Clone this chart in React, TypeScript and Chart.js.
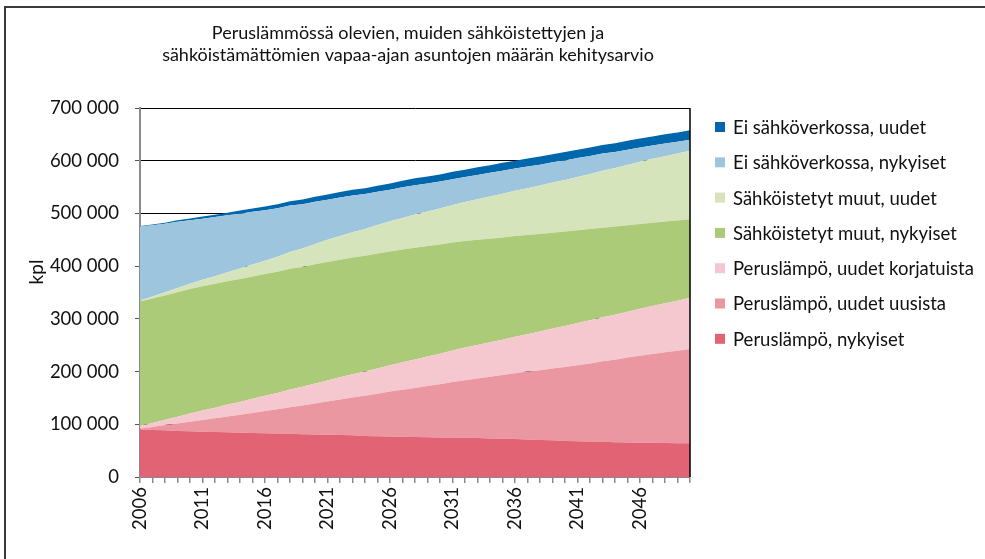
import React, { useEffect, useRef } from 'react';
import { Chart, registerables } from 'chart.js';

Chart.register(...registerables);

const TITLE = [
  'Peruslämmössä olevien, muiden sähköistettyjen ja',
  'sähköistämättömien vapaa-ajan asuntojen määrän kehitysarvio',
];
const Y_TITLE = 'kpl';
const UNIT = 1000;

const years = [
  '2006', '2007', '2008', '2009', '2010', '2011', '2012', '2013', '2014', '2015',
  '2016', '2017', '2018', '2019', '2020', '2021', '2022', '2023', '2024', '2025',
  '2026', '2027', '2028', '2029', '2030', '2031', '2032', '2033', '2034', '2035',
  '2036', '2037', '2038', '2039', '2040', '2041', '2042', '2043', '2044', '2045',
  '2046', '2047', '2048', '2049', '2050',
];
const labeledYears = ['2006', '2011', '2016', '2021', '2026', '2031', '2036', '2041', '2046'];

// values in thousands
const perusNykyiset = [
  90, 89, 88.5, 87.5, 87, 86, 85.5, 85, 84, 83.5,
  83, 82.5, 82, 81, 80.5, 80, 79.5, 79, 78, 77.5,
  77, 76.5, 76, 75.5, 75, 75, 74.5, 74, 73, 72.5,
  72, 71, 70, 69.5, 68.5, 68, 67.5, 67, 66, 65.5,
  65, 65, 64.5, 64, 64,
];
const perusUudetUusista = [
  2, 6, 10, 14, 18, 22, 26, 30, 34, 38,
  42, 46, 50.5, 54.5, 59, 63, 67.5, 72, 76, 80.5,
  85, 89, 93, 97, 101, 105, 109, 113, 117, 121,
  125, 129, 132.5, 136.5, 140, 144, 148, 152.5, 156.5, 161,
  165, 168.5, 172, 175.5, 179,
];
const perusUudetKorjatuista = [
  5, 7.5, 10, 13, 15.5, 18, 20, 22.5, 24.5, 27,
  29, 31, 33.5, 35.5, 38, 40, 42, 44, 46, 48,
  50, 52, 54, 56, 58, 60, 62, 63.5, 65.5, 67,
  69, 71, 73.5, 75.5, 78, 80, 82, 83.5, 85.5, 87,
  89, 91, 93, 95, 97,
];
const sahkoNykyiset = [
  236, 236, 236, 236, 236, 236, 235, 234, 233, 232,
  231, 230, 229, 227.5, 226, 225, 223, 221.5, 219.5, 218,
  216, 214, 212, 209.5, 207, 205, 202, 199.5, 196.5, 194,
  191, 188, 185, 182, 179, 176, 173, 170, 167, 164,
  161, 158, 155, 152, 149,
];
const sahkoUudet = [
  2, 4, 6, 8, 10, 12, 14.5, 17, 20, 22.5,
  25, 28.5, 32, 35, 38.5, 42, 45, 48, 51, 54,
  57, 60, 63, 65.5, 68.5, 71, 74, 77, 80, 83,
  86, 89, 92, 95, 98, 101, 104.5, 108, 111, 114.5,
  118, 121, 124, 127, 130,
];
const eiVerkkoNykyiset = [
  140, 135, 130, 125.5, 120.5, 116, 112, 108, 104, 100,
  96, 92, 88, 84, 80, 76, 73, 69.5, 66.5, 63,
  60, 58, 55.5, 53.5, 51, 49, 47.5, 46, 45, 43.5,
  42, 41, 39.5, 38.5, 37, 36, 34, 32.5, 30.5, 29,
  27, 25.5, 24, 22.5, 21,
];
const eiVerkkoUudet = [
  1, 1.5, 2, 3, 3.5, 4, 4.5, 5, 6, 6.5,
  7, 7.5, 8, 9, 9.5, 10, 10.5, 11, 11, 11.5,
  12, 12.5, 13, 13, 13.5, 14, 14, 14.5, 14.5, 15,
  15, 15, 15.5, 15.5, 16, 16, 16, 16.5, 16.5, 17,
  17, 17, 17.5, 17.5, 18,
];

const seriesLabels = [
  'Peruslämpö, nykyiset',
  'Peruslämpö, uudet uusista',
  'Peruslämpö, uudet korjatuista',
  'Sähköistetyt muut, nykyiset',
  'Sähköistetyt muut, uudet',
  'Ei sähköverkossa, nykyiset',
  'Ei sähköverkossa, uudet',
];
const seriesValues = [
  perusNykyiset,
  perusUudetUusista,
  perusUudetKorjatuista,
  sahkoNykyiset,
  sahkoUudet,
  eiVerkkoNykyiset,
  eiVerkkoUudet,
];
const seriesColors = ['#E26474', '#EB97A1', '#F5C8CF', '#ABCB79', '#D6E4BC', '#9DC5DE', '#0067AD'];

const FONT = 'Lato, "Open Sans", "DejaVu Sans", sans-serif';

const fmt = (v: number) => String(Math.round(v)).replace(/\B(?=(\d{3})+(?!\d))/g, ' ');

const decoPlugin = {
  id: 'deco',
  afterDraw(chart: any) {
    const { ctx, chartArea: ca } = chart;
    ctx.save();
    // outer frame (top and left only)
    ctx.strokeStyle = '#3a3a3a';
    ctx.lineWidth = 2;
    ctx.beginPath();
    ctx.moveTo(5, 559);
    ctx.lineTo(5, 7);
    ctx.lineTo(985, 7);
    ctx.stroke();
    // plot right border
    ctx.strokeStyle = '#000';
    ctx.lineWidth = 1.5;
    ctx.beginPath();
    ctx.moveTo(ca.right, ca.top);
    ctx.lineTo(ca.right, ca.bottom);
    ctx.stroke();
    // title
    ctx.fillStyle = '#111';
    ctx.font = `18px ${FONT}`;
    ctx.textAlign = 'center';
    ctx.textBaseline = 'middle';
    const cx = (ca.left + ca.right) / 2 - 7;
    ctx.fillText(TITLE[0], cx, 33);
    ctx.fillText(TITLE[1], cx, 55);
    // y title
    ctx.save();
    ctx.translate(37, 272);
    ctx.rotate(-Math.PI / 2);
    ctx.font = `19px ${FONT}`;
    ctx.fillText(Y_TITLE, 0, 0);
    ctx.restore();
    // legend
    const ds = chart.data.datasets;
    ctx.textAlign = 'left';
    ctx.font = `18.5px ${FONT}`;
    const n = ds.length;
    for (let i = 0; i < n; i++) {
      const d = ds[n - 1 - i];
      const yc = 127 + i * 35.3;
      ctx.fillStyle = d.backgroundColor;
      ctx.fillRect(ca.right + 25, yc - 5, 10, 10);
      ctx.fillStyle = '#111';
      ctx.fillText(d.label, ca.right + 43, yc + 1);
    }
    ctx.restore();
  },
};

export default function App() {
  const ref = useRef<HTMLCanvasElement>(null);
  useEffect(() => {
    if (!ref.current) return;
    const chart = new Chart(ref.current, {
      type: 'line',
      data: {
        labels: years,
        datasets: seriesValues.map((vals, i) => ({
          label: seriesLabels[i],
          data: vals.map((v) => v * UNIT),
          backgroundColor: seriesColors[i],
          borderColor: seriesColors[i],
          borderWidth: 0,
          pointRadius: 0,
          fill: i === 0 ? 'origin' : '-1',
          tension: 0,
        })),
      },
      options: {
        animation: false,
        responsive: false,
        maintainAspectRatio: false,
        layout: { padding: { left: 0, top: 108, right: 295, bottom: 0 } },
        plugins: {
          legend: { display: false },
          title: { display: false },
          tooltip: { enabled: false },
        },
        scales: {
          x: {
            type: 'category',
            offset: false,
            afterFit: (s: any) => { s.height = 82; },
            grid: {
              drawOnChartArea: false,
              drawTicks: true,
              tickLength: 6,
              color: '#8a8a8a',
              lineWidth: 1.5,
            },
            border: { color: '#8a8a8a', width: 2 },
            ticks: {
              autoSkip: false,
              maxRotation: 90,
              minRotation: 90,
              padding: 4,
              color: '#111',
              font: { family: FONT, size: 18.5 },
              callback: function (this: any, _v: any, idx: number) {
                const lbl = years[idx];
                return labeledYears.includes(lbl) ? lbl : '';
              },
            },
          },
          y: {
            stacked: true,
            min: 0,
            max: 700000,
            afterFit: (s: any) => { s.width = 140; },
            grid: {
              color: '#000',
              lineWidth: 1,
              tickLength: 5,
              drawTicks: true,
              tickColor: '#555',
            },
            border: { color: '#8a8a8a', width: 2 },
            ticks: {
              stepSize: 100000,
              padding: 16,
              color: '#111',
              font: { family: FONT, size: 18.5 },
              callback: (v: any) => fmt(Number(v)),
            },
          },
        },
      },
      plugins: [decoPlugin],
    });
    return () => chart.destroy();
  }, []);
  return (
    <div style={{ position: 'fixed', left: 0, top: 0, width: 985, height: 559, background: '#fff' }}>
      <canvas ref={ref} width={985} height={559} style={{ width: 985, height: 559, display: 'block' }} />
    </div>
  );
}
